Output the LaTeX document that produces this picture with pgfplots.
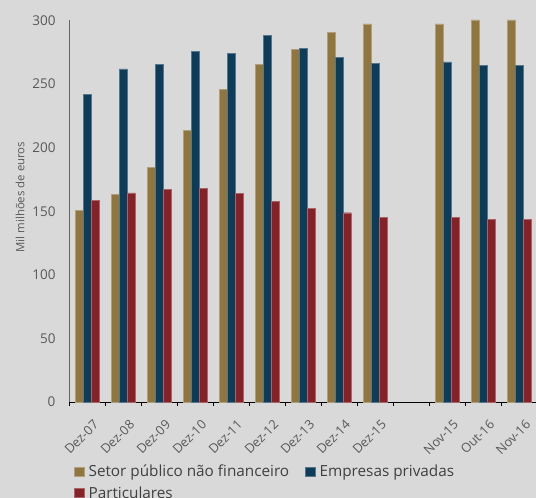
\documentclass[border=0pt]{standalone}
\usepackage{pgfplots}
\pgfplotsset{compat=1.18}
\usepackage{fontspec}
\setmainfont{Open Sans}
\definecolor{bg}{HTML}{D9D9D9}
\definecolor{cgold}{HTML}{8F7641}
\definecolor{cblue}{HTML}{0D3B58}
\definecolor{cred}{HTML}{832227}
\definecolor{txt}{HTML}{595959}
\definecolor{legtxt}{HTML}{404040}
\begin{document}
\begin{tikzpicture}
\fill[bg, use as bounding box] (0,0) rectangle (536pt,498pt);
\begin{axis}[
  at={(69pt,96pt)}, anchor=south west,
  scale only axis, width=468pt, height=381.6pt,
  xmin=-0.5, xmax=12.5, ymin=0, ymax=300,
  clip=false,
  ybar=0pt, bar width=8pt,
  axis x line*=bottom, axis y line*=left,
  x axis line style={-, black, line width=0.8pt},
  y axis line style={-, draw=black!60, line width=0.8pt},
  tick align=outside,
  xtick={0,...,12},
  xticklabels={Dez-07,Dez-08,Dez-09,Dez-10,Dez-11,Dez-12,Dez-13,Dez-14,Dez-15,,Nov-15,Out-16,Nov-16},
  major x tick style={draw=none},
  minor xtick={-0.5,0.5,...,12.5},
  minor tick length=4pt,
  minor x tick style={black, line width=0.8pt},
  xticklabel style={rotate=45, anchor=north east, font=\fontsize{12.8}{14}\selectfont, text=txt, inner sep=1pt, xshift=-7pt, yshift=-15pt},
  ytick={0,50,...,300},
  ytick style={draw=none},
  major tick length=0pt,
  yticklabel style={font=\fontsize{13.5}{15}\selectfont, text=txt, xshift=-10pt},
  /pgf/number format/assume math mode=true,
  ylabel={Mil milhões de euros},
  ylabel style={font=\fontsize{11.4}{13}\selectfont, text=txt, at={(ticklabel cs:0.537,1pt)}},
  legend columns=2,
  legend cell align=left,
  legend style={at={(0,0)}, anchor=north west, xshift=2pt, yshift=-59pt,
    draw=none, fill=none, font=\fontsize{15.3}{17}\selectfont, text=legtxt,
    /tikz/every odd column/.append style={column sep=2pt},
    /tikz/every even column/.append style={column sep=14pt},
    row sep=4pt},
  legend image code/.code={\fill[#1] (0pt,-4.5pt) rectangle (10pt,4.5pt);},
]
\addplot[fill=cgold, draw=cgold!70!white, line width=0.4pt] coordinates {
(0,150.6) (1,163.0) (2,184.4) (3,213.5) (4,245.8) (5,265.7) (6,277.0) (7,290.6) (8,297.2) (10,297.2) (11,300.5) (12,300.5)};
\addplot[fill=cblue, draw=cblue!70!white, line width=0.4pt] coordinates {
(0,242.1) (1,261.8) (2,265.7) (3,275.6) (4,274.3) (5,288.0) (6,277.8) (7,270.7) (8,266.5) (10,267.3) (11,264.6) (12,264.6)};
\addplot[fill=cred, draw=cred!70!white, line width=0.4pt] coordinates {
(0,158.8) (1,164.5) (2,167.1) (3,168.2) (4,164.0) (5,158.0) (6,152.2) (7,148.8) (8,144.9) (10,145.1) (11,143.6) (12,143.6)};
\legend{Setor público não financeiro, Empresas privadas, Particulares}
\end{axis}
\end{tikzpicture}
\end{document}
